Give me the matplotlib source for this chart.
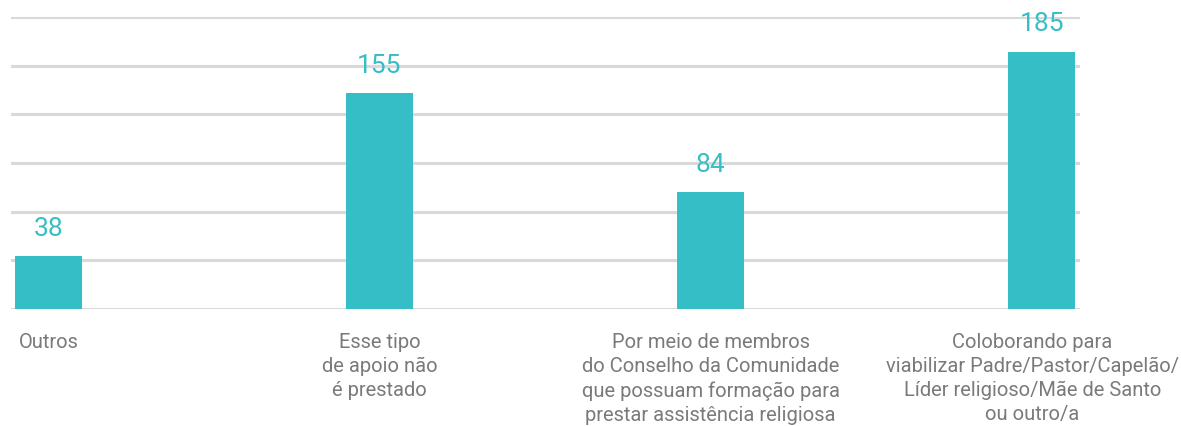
import matplotlib.pyplot as plt

# apoio religioso oferecido pelo Conselho da Comunidade
categorias = [
    "Outros",
    "Esse tipo\nde apoio não\né prestado",
    "Por meio de membros\ndo Conselho da Comunidade\nque possuam formação para\nprestar assistência religiosa",
    "Coloborando para\nviabilizar Padre/Pastor/Capelão/\nLíder religioso/Mãe de Santo\nou outro/a",
]
valores = [38, 155, 84, 185]
marcas_y = [0, 35, 70, 105, 140, 175, 210]

cor_barra = "#35bec5"
cor_grade = "#d9d9d9"
cor_texto = "#7a7a7a"

plt.rcParams["font.family"] = ["Roboto", "DejaVu Sans"]

W, H = 1181, 426
fig = plt.figure(figsize=(W / 100, H / 100), dpi=100)
# axes placed in pixel terms: x from 11 to 1080, y=0 at 309, 210 at 17
ax = fig.add_axes([11 / W, (H - 309) / H, (1080 - 11) / W, (309 - 17) / H])

x = list(range(len(valores)))
ax.bar(x, valores, width=0.2, color=cor_barra, zorder=3)

for xi, v in zip(x, valores):
    ax.annotate(str(v), (xi, v), xytext=(0, 11), textcoords="offset points",
                ha="center", va="bottom", fontsize=19, color=cor_barra)

rotulos = []
for xi, cat in zip(x, categorias):
    t = ax.annotate(cat, (xi, 0), xytext=(0, -17), textcoords="offset points",
                    ha="center", va="top", fontsize=14.5, color=cor_texto,
                    linespacing=1.34, annotation_clip=False)
    rotulos.append(t)

ax.set_xlim(-0.113, 3.116)
ax.set_ylim(0, 210)
ax.set_yticks(marcas_y)
ax.yaxis.grid(True, color=cor_grade, linewidth=2.2, zorder=0)
ax.set_axisbelow(True)
ax.set_xticks([])
ax.tick_params(axis="y", left=False, labelleft=False)
for s in ax.spines.values():
    s.set_visible(False)

# pull a label back inside the figure if it runs past the right edge
fig.canvas.draw()
ren = fig.canvas.get_renderer()
for t in rotulos:
    bb = t.get_window_extent(ren)
    excesso = bb.x1 - (W - 2)
    if excesso > 0:
        dx, dy = t.xyann
        t.xyann = (dx - excesso * 72 / 100, dy)

fig.savefig("out.png", dpi=100)
